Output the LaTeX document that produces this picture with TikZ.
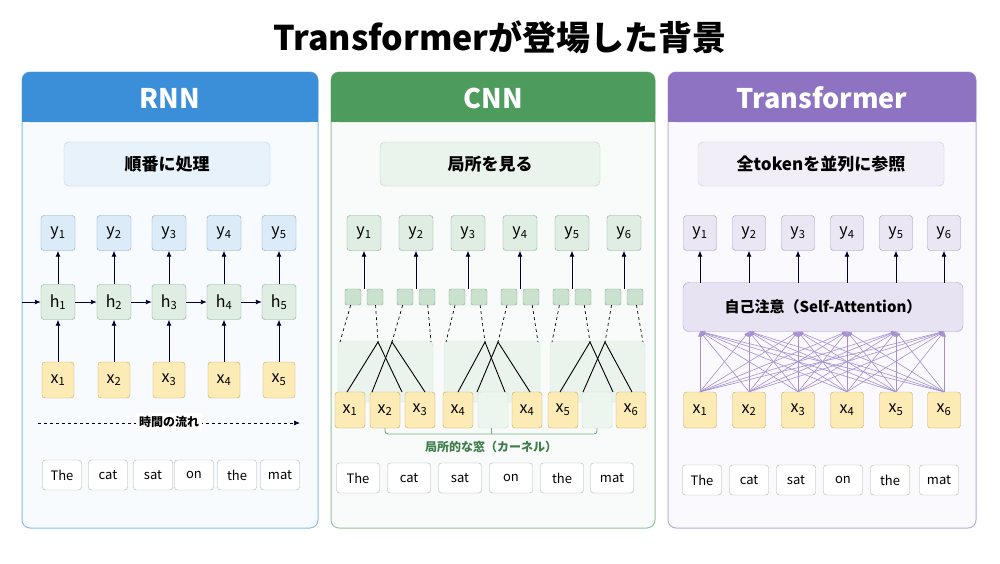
\documentclass[tikz,border=0pt]{standalone}
\usepackage{fontspec}
\setmainfont{Noto Sans CJK JP}
\usetikzlibrary{arrows.meta}
\definecolor{rb}{HTML}{3B8FD9}\definecolor{cg}{HTML}{4E9C5D}\definecolor{tp}{HTML}{8E73C2}
\definecolor{yb}{HTML}{F7D57A}\definecolor{yf}{HTML}{FCEBB5}
\begin{document}
\begin{tikzpicture}[x=1pt,y=-1pt,
 panel/.style={draw=#1!60,line width=1pt,rounded corners=8pt,fill=#1!4},
 sub/.style={draw=#1!40,fill=#1!12,rounded corners=5pt,minimum height=44pt,font=\bfseries\fontsize{17}{17}\selectfont},
 bx/.style={draw=#1!70!black!60,fill=#1!18,rounded corners=3pt,minimum width=34pt,minimum height=35pt,inner sep=0pt,font=\fontsize{16}{16}\selectfont},
 xx/.style={draw=yb!80!black,fill=yf,rounded corners=3pt,minimum width=32pt,minimum height=36pt,inner sep=0pt,font=\fontsize{16}{16}\selectfont},
 wd/.style={draw=gray!60,fill=white,rounded corners=3pt,minimum width=39pt,minimum height=30pt,inner sep=0pt,font=\fontsize{13}{13}\selectfont},
 ar/.style={-{Latex[length=6pt,width=5pt]},line width=0.9pt,color=#1},
 ar/.default={black!80!blue}]
\useasboundingbox (0,0) rectangle (1000,563);
\fill[white] (0,0) rectangle (1000,563);
\node[font=\bfseries\fontsize{34}{34}\selectfont] (title) at (500,37) {Transformerが登場した背景};
% panels
\foreach \c/\a/\b/\t/\n in {rb/22/318/RNN/p1,cg/331/655/CNN/p2,tp/668/976/Transformer/p3}{
 \draw[panel=\c] (\a,72) rectangle (\b,528);
 \fill[\c,rounded corners=8pt] (\a,72) rectangle (\b,122);
 \fill[\c] (\a,110) rectangle (\b,122);
 \node[white,font=\bfseries\fontsize{27}{27}\selectfont] (\n) at ({(\a+\b)/2},98) {\t};
}
\node[sub=rb,minimum width=206pt] (s1) at (167,164) {順番に処理};
\node[sub=cg,minimum width=220pt] (s2) at (490,164) {局所を見る};
\node[sub=tp,minimum width=246pt] (s3) at (821,164) {全tokenを並列に参照};
% RNN
\coordinate (h0) at (22,302);
\foreach \i/\x in {1/58,2/114,3/169,4/224,5/279}{
 \node[bx=rb] (ry\i) at (\x,233) {y\textsubscript{\i}};
 \node[bx=cg] (rh\i) at (\x,302) {\textit{h}\textsubscript{\i}};
 \node[xx] (rx\i) at (\x,380) {x\textsubscript{\i}};
 \draw[ar] (rx\i) -- (rh\i);
 \draw[ar] (rh\i) -- (ry\i);
}
\draw[ar] (h0) -- (rh1);
\foreach \i/\j in {1/2,2/3,3/4,4/5} \draw[ar] (rh\i) -- (rh\j);
\coordinate (ta) at (38,423); \coordinate (tb) at (300,423);
\draw[ar,dashed,line width=0.7pt] (ta) -- (tb);
\node[fill=white,font=\bfseries\fontsize{12}{12}\selectfont,inner sep=3pt] (tl) at (169,422) {時間の流れ};
\foreach \w/\x [count=\k] in {The/62,cat/108,sat/153,on/194,the/237,mat/280}
 \node[wd] (rw\k) at (\x,475) {\w};
% CNN
\foreach \a/\b [count=\k] in {338/433,444/540,550/645}
 \draw[densely dotted,draw=cg!50,fill=cg!12,rounded corners=4pt] (\a,341) rectangle (\b,402);
\foreach \i/\x in {1/364,2/416,3/468,4/520,5/572,6/624}{
 \node[bx=cg] (cy\i) at (\x,233) {y\textsubscript{\i}};
 \node[draw=cg!70!black!60,fill=cg!30,rounded corners=2pt,minimum size=16pt,inner sep=0pt] (ca\i) at (\x-11,297) {};
 \node[draw=cg!70!black!60,fill=cg!30,rounded corners=2pt,minimum size=16pt,inner sep=0pt] (cb\i) at (\x+11,297) {};
 \coordinate (cm\i) at (\x,289);
 \draw[ar] (cm\i) -- (cy\i);
}
\foreach \n/\x/\l/\f in {cx1/350/x\textsubscript{1}/1,cx2/385/x\textsubscript{2}/1,cx3/420/x\textsubscript{3}/1,cx4/458/x\textsubscript{4}/1,ce1/493//0,cx5/527/x\textsubscript{4}/1,cx6/563/x\textsubscript{5}/1,ce2/597//0,cx7/631/x\textsubscript{6}/1}{
 \ifnum\f=1 \node[xx,minimum width=30pt] (\n) at (\x,410) {\l};
 \else \node[draw=cg!30,fill=cg!10,rounded corners=3pt,minimum width=30pt,minimum height=36pt] (\n) at (\x,410) {};\fi
}
\foreach \w/\p/\q/\la/\ra/\lb/\rb/\L/\R/\pa/\pb in {1/378/392/347/402/372/425/340/431/1/2,2/485/498/458/505/477/530/446/538/3/4,3/590/605/560/613/583/632/552/643/5/6}{
 \coordinate (apA\w) at (\p,342); \coordinate (apB\w) at (\q,342);
 \coordinate (bA1\w) at (\la,392); \coordinate (bA2\w) at (\ra,392);
 \coordinate (bB1\w) at (\lb,392); \coordinate (bB2\w) at (\rb,392);
 \coordinate (wl\w) at (\L,342); \coordinate (wr\w) at (\R,342);
 \draw[line width=0.9pt] (bA1\w) -- (apA\w) -- (bA2\w);
 \draw[line width=0.9pt] (bB1\w) -- (apB\w) -- (bB2\w);
 \draw[dashed,line width=0.7pt] (ca\pa) -- (wl\w);
 \draw[dashed,line width=0.7pt] (cb\pa) -- (apA\w);
 \draw[dashed,line width=0.7pt] (ca\pb) -- (apB\w);
 \draw[dashed,line width=0.7pt] (cb\pb) -- (wr\w);
}
\coordinate (k1) at (385,428); \coordinate (k2) at (597,428);
\draw[cg!80,line width=0.9pt,rounded corners=3pt] (k1) -- (385,434) -- (597,434) -- (k2);
\draw[cg!80,line width=0.9pt] (491,434) -- (491,428);
\node[text=cg!80!black,font=\bfseries\fontsize{12}{12}\selectfont] (kl) at (491,447) {局所的な窓（カーネル）};
\foreach \w/\x [count=\k] in {The/358,cat/409,sat/460,on/511,the/562,mat/612}
 \node[wd,minimum width=43pt] (cw\k) at (\x,478) {\w};
% Transformer
\node[draw=tp!70,fill=tp!20,rounded corners=6pt,minimum width=280pt,minimum height=49pt,font=\bfseries\fontsize{15}{15}\selectfont] (att) at (823,307) {自己注意（Self-Attention）};
\foreach \i/\x in {1/700,2/749,3/798,4/847,5/896,6/944}{
 \node[bx=tp,minimum width=33pt] (ty\i) at (\x,233) {y\textsubscript{\i}};
 \node[xx,minimum width=33pt] (tx\i) at (\x,410) {x\textsubscript{\i}};
 \coordinate (tt\i) at (\x,331.5);
 \coordinate (tu\i) at (\x,282.5);
 \draw[ar] (tu\i) -- (ty\i);
}
\foreach \i in {1,...,6}\foreach \j in {1,...,6}
 \draw[ar=tp!80,line width=0.6pt,-{Latex[length=5pt,width=4pt]}] (tx\i.north) -- (tt\j);
\foreach \w/\x [count=\k] in {The/702,cat/749,sat/796,on/843,the/890,mat/939}
 \node[wd] (tw\k) at (\x,480) {\w};
\end{tikzpicture}
\end{document}
